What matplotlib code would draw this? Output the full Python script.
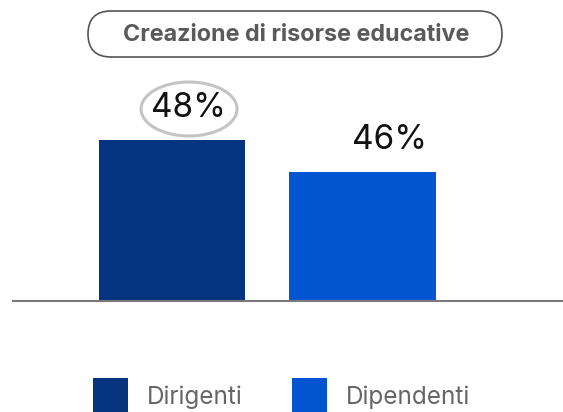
import matplotlib.pyplot as plt
from matplotlib.patches import FancyBboxPatch, Ellipse
from matplotlib.transforms import IdentityTransform

plt.rcParams['font.family'] = ['Inter', 'DejaVu Sans']

# dati
categorie = ['Dirigenti', 'Dipendenti']
valori = [48, 46]
etichette = ['48%', '46%']
colori = ['#06347f', '#0354d1']
titolo = 'Creazione di risorse educative'

fig = plt.figure(figsize=(5.63, 4.12), dpi=100)

# assi principali: base a y=301px, da x=13px al bordo destro
ax = fig.add_axes([13 / 563, (412 - 301) / 412, 550 / 563, 221 / 412])
barre = ax.bar(range(len(valori)), valori, width=0.77, color=colori, label=categorie)
ax.set_xlim(-0.835, 2.052)
ax.set_ylim(38, 38 + 221 / 16.1)
for s in ['top', 'left', 'right']:
    ax.spines[s].set_visible(False)
ax.spines['bottom'].set_color('#7a7a7a')
ax.spines['bottom'].set_linewidth(1.5)
ax.set_xticks([])
ax.set_yticks([])

# etichette dei valori
spost = [16, 27]
for i, (v, t) in enumerate(zip(valori, etichette)):
    ax.annotate(t, (i, v), xytext=(spost[i] * 0.72, 23), textcoords='offset points',
                ha='center', va='center', fontsize=24, color='#111111')

# cerchio grigio attorno alla prima etichetta (in pixel)
cx, cy = ax.transData.transform((0, valori[0]))
fig.add_artist(Ellipse((cx + 17, cy + 31), 96, 54, transform=IdentityTransform(),
                       fc='none', ec='#c4c4c4', lw=2.2))

# riquadro del titolo in coordinate pixel
top = fig.add_axes([0, 0, 1, 1])
top.set_xlim(0, 563)
top.set_ylim(412, 0)
top.axis('off')
top.add_patch(FancyBboxPatch((88, 11), 414, 46, boxstyle='round,pad=0,rounding_size=23',
                             fc='white', ec='#555555', lw=1.2))
top.text(296, 35, titolo, ha='center', va='center', fontsize=16.8,
         fontweight='bold', color='#5a5a5a')

# legenda in basso
fig.legend(handles=barre, labels=categorie, loc='lower left',
           bbox_to_anchor=(71 / 563, -0.058), ncol=2, frameon=False,
           fontsize=17.5, labelcolor='#666666', handlelength=1.44, handleheight=1.9,
           handletextpad=0.78, columnspacing=2.05)

fig.savefig('out.png', dpi=100)
